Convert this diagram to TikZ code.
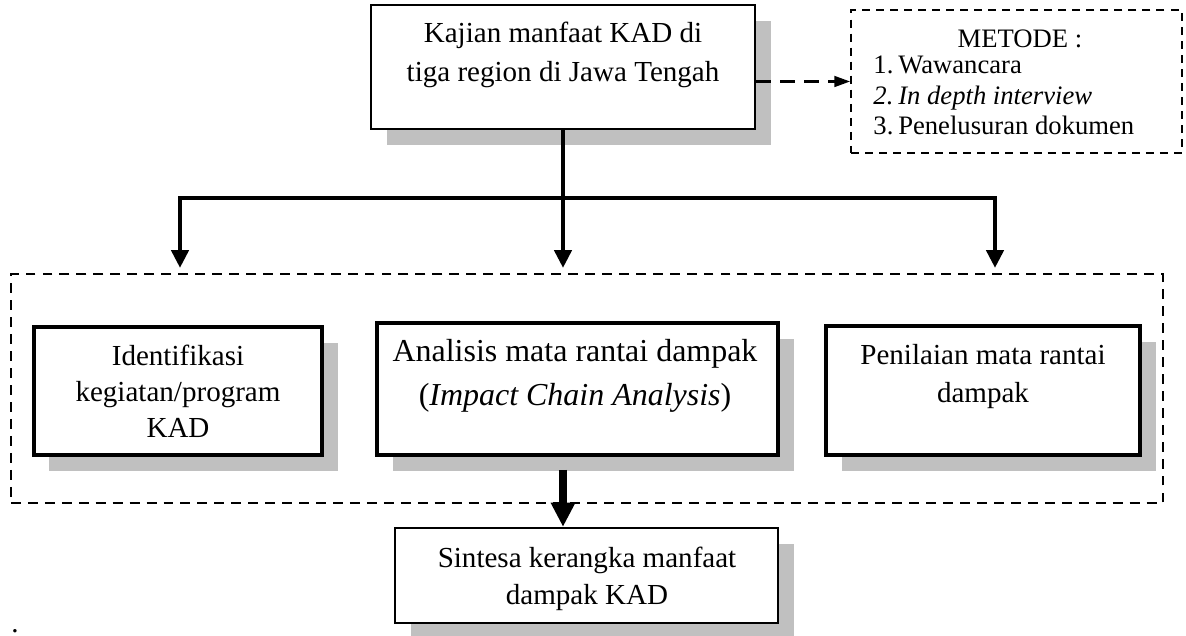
\documentclass[tikz,border=0pt]{standalone}
\usepackage{fontspec}
\setmainfont{Liberation Serif}
\usetikzlibrary{arrows.meta,fit,shadows}
\definecolor{shadowgray}{RGB}{192,192,192}
\begin{document}
\begin{tikzpicture}[x=0.413pt,y=-0.413pt,
  box/.style={draw, fill=white, inner sep=0pt,
    general shadow={fill=shadowgray, shadow xshift=6.4pt, shadow yshift=-6.5pt}},
  topbox/.style={box, line width=1pt},
  heavybox/.style={box, line width=1.45pt},
  lastbox/.style={box, line width=0.95pt},
  methodbox/.style={draw, inner sep=0pt, line width=0.8pt, dash pattern=on 3.3pt off 2.5pt},
  groupbox/.style={draw, inner sep=0pt, line width=0.75pt, dash pattern=on 4.1pt off 2.9pt},
  txt/.style={align=center, inner sep=0pt},
  bus/.style={line width=1.9pt},
  busarrow/.style={bus, -{Triangle[width=7pt,length=7.4pt]}},
  bigarrow/.style={line width=2.9pt, -{Triangle[width=9.5pt,length=10pt]}},
  dasharrow/.style={line width=0.85pt, dash pattern=on 6.2pt off 3.7pt,
    -{Triangle[width=4.5pt,length=6.5pt]}},
]
\fill[white] (0,0) rectangle (1186,636);
\useasboundingbox (0,0) rectangle (1186,636);

% top study box
\node[topbox, fit={(371,5) (755,129)}] (kajian) {};
\node[txt, font=\fontsize{12pt}{16.1pt}\selectfont] (kajiantxt) at (563,55)
  {Kajian manfaat KAD di\\tiga region di Jawa Tengah};

% methods box
\node[methodbox, fit={(851,10) (1182,153)}] (metode) {};
\node[txt, font=\fontsize{11pt}{12.6pt}\selectfont] (metodetitle) at (1020,39) {METODE :};
\node[inner sep=0pt, anchor=west, font=\fontsize{11pt}{12.6pt}\selectfont] (metodelist) at (873,98)
  {\begin{tabular}{@{}l@{\hspace{2pt}}l@{}}
    1. & Wawancara\\
    \textit{2.} & \textit{In depth interview}\\
    3. & Penelusuran dokumen
  \end{tabular}};
\draw[dasharrow] (metode.west -| kajian.east) -- (metode.west);

% dashed group of the three analysis steps
\node[groupbox, fit={(11,274) (1163,503)}] (grp) {};
\node[heavybox, fit={(34,327) (322,455)}] (ident) {};
\node[heavybox, fit={(377,323) (778,455)}] (analisis) {};
\node[heavybox, fit={(826,326) (1140,455)}] (penilaian) {};
\node[txt, font=\fontsize{12pt}{14.9pt}\selectfont] (identtxt) at (178,391)
  {Identifikasi\\kegiatan/program\\KAD};
\node[txt, font=\fontsize{13.2pt}{18.2pt}\selectfont] (analisistxt) at (575,376)
  {Analisis mata rantai dampak\\(\textit{Impact Chain Analysis})};
\node[txt, font=\fontsize{12pt}{15.3pt}\selectfont] (penilaiantxt) at (983,376.5)
  {Penilaian mata rantai\\dampak};

% synthesis box
\node[lastbox, fit={(395,528) (778,623)}] (sintesa) {};
\node[txt, font=\fontsize{12pt}{15.3pt}\selectfont] (sintesatxt) at (587,579)
  {Sintesa kerangka manfaat\\dampak KAD};

% branching connectors
\coordinate (bus) at (563,198);
\coordinate (tipL) at (180,268);
\coordinate (tipM) at (563,268);
\coordinate (tipR) at (995,268);
\draw[busarrow] (kajian.south) -- (tipM);
\draw[busarrow] (bus) -| (tipL);
\draw[busarrow] (bus) -| (tipR);
\draw[bigarrow, shorten <=5.4pt] (analisis.south -| tipM) -- (sintesa.north -| tipM);

\node[inner sep=0pt, anchor=base west, font=\fontsize{12pt}{14pt}\selectfont] (dot) at (11,632) {.};
\end{tikzpicture}
\end{document}
